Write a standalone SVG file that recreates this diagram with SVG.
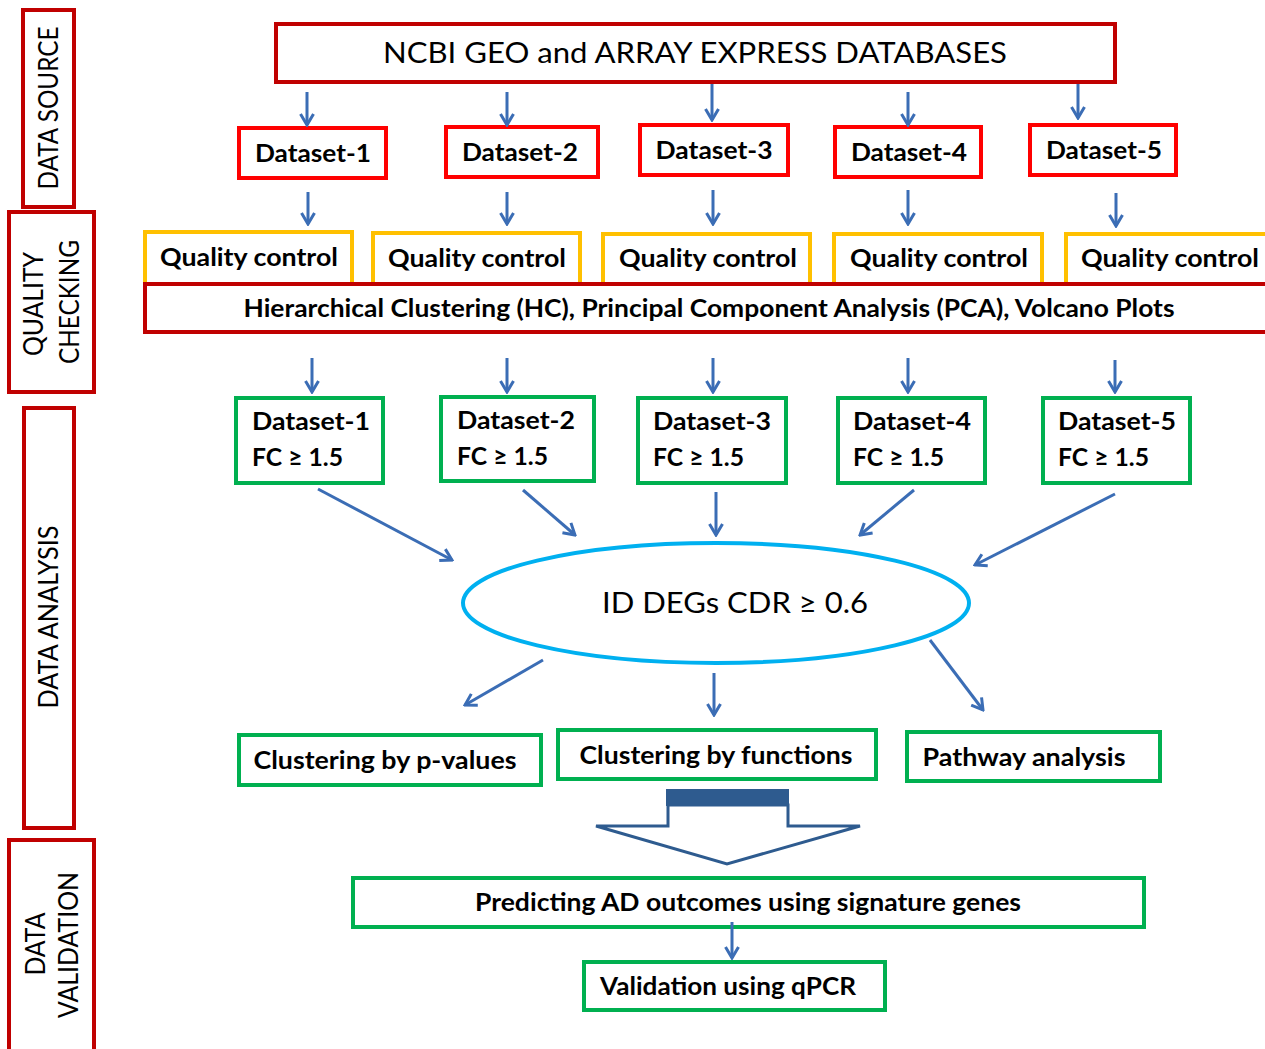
<svg xmlns="http://www.w3.org/2000/svg" width="1265" height="1049" viewBox="0 0 1265 1049">
<defs>
<style>
.t{font-family:Lato,"Liberation Sans",sans-serif;fill:#000}
.b{font-weight:bold}
.side{fill:#fff;stroke:#c00000;stroke-width:4}
.dr{fill:#fff;stroke:#c00000;stroke-width:4}
.rd{fill:#fff;stroke:#ff0000;stroke-width:4}
.qc{fill:#fff;stroke:#ffc000;stroke-width:4}
.gr{fill:#fff;stroke:#00b050;stroke-width:4}
.ar{stroke:#3b6db5;stroke-width:3;fill:none;marker-end:url(#ah)}
</style>
<marker id="ah" viewBox="0 0 14 16" refX="12" refY="8" markerWidth="14" markerHeight="16" markerUnits="userSpaceOnUse" orient="auto">
<path d="M1,1.5 L12,8 L1,14.5" fill="none" stroke="#3b6db5" stroke-width="3"/>
</marker>
</defs>
<rect width="1265" height="1049" fill="#fff"/>

<g id="side-data-source">
<rect x="23" y="10" width="51" height="197" class="side"/>
<text class="t" transform="translate(58,108) rotate(-90)" text-anchor="middle" font-size="27" textLength="163" lengthAdjust="spacingAndGlyphs">DATA SOURCE</text>
</g>
<g id="side-quality-checking">
<rect x="9" y="212" width="85" height="180" class="side"/>
<text class="t" transform="translate(43,304) rotate(-90)" text-anchor="middle" font-size="27" textLength="104" lengthAdjust="spacingAndGlyphs">QUALITY</text>
<text class="t" transform="translate(79,302) rotate(-90)" text-anchor="middle" font-size="27" textLength="124" lengthAdjust="spacingAndGlyphs">CHECKING</text>
</g>
<g id="side-data-analysis">
<rect x="24" y="408" width="50" height="420" class="side"/>
<text class="t" transform="translate(58,617) rotate(-90)" text-anchor="middle" font-size="27" textLength="183" lengthAdjust="spacingAndGlyphs">DATA ANALYSIS</text>
</g>
<g id="side-data-validation">
<rect x="9" y="840" width="85" height="220" class="side"/>
<text class="t" transform="translate(45,944) rotate(-90)" text-anchor="middle" font-size="27" textLength="63" lengthAdjust="spacingAndGlyphs">DATA</text>
<text class="t" transform="translate(78,945) rotate(-90)" text-anchor="middle" font-size="27" textLength="146" lengthAdjust="spacingAndGlyphs">VALIDATION</text>
</g>

<g id="ncbi">
<rect x="276" y="24" width="839" height="58" class="dr"/>
<text class="t" x="695" y="63" text-anchor="middle" font-size="28" textLength="624" lengthAdjust="spacingAndGlyphs">NCBI GEO and ARRAY EXPRESS DATABASES</text>
</g>

<g id="ds1"><rect x="239" y="128" width="147" height="50" class="rd"/><text class="t b" x="313" y="162" text-anchor="middle" font-size="25" textLength="116" lengthAdjust="spacingAndGlyphs">Dataset-1</text></g>
<g id="ds2"><rect x="446" y="127" width="152" height="50" class="rd"/><text class="t b" x="520" y="161" text-anchor="middle" font-size="25" textLength="116" lengthAdjust="spacingAndGlyphs">Dataset-2</text></g>
<g id="ds3"><rect x="640" y="125" width="148" height="50" class="rd"/><text class="t b" x="714" y="159" text-anchor="middle" font-size="25" textLength="117" lengthAdjust="spacingAndGlyphs">Dataset-3</text></g>
<g id="ds4"><rect x="835" y="127" width="146" height="50" class="rd"/><text class="t b" x="909" y="161" text-anchor="middle" font-size="25" textLength="116" lengthAdjust="spacingAndGlyphs">Dataset-4</text></g>
<g id="ds5"><rect x="1030" y="125" width="146" height="50" class="rd"/><text class="t b" x="1104" y="159" text-anchor="middle" font-size="25" textLength="116" lengthAdjust="spacingAndGlyphs">Dataset-5</text></g>

<g id="qc1"><rect x="145" y="232" width="207" height="55" class="qc"/><text class="t b" x="249" y="266" text-anchor="middle" font-size="25" textLength="178" lengthAdjust="spacingAndGlyphs">Quality control</text></g>
<g id="qc2"><rect x="373" y="233" width="207" height="54" class="qc"/><text class="t b" x="477" y="267" text-anchor="middle" font-size="25" textLength="178" lengthAdjust="spacingAndGlyphs">Quality control</text></g>
<g id="qc3"><rect x="603" y="234" width="207" height="53" class="qc"/><text class="t b" x="708" y="267" text-anchor="middle" font-size="25" textLength="178" lengthAdjust="spacingAndGlyphs">Quality control</text></g>
<g id="qc4"><rect x="834" y="234" width="208" height="53" class="qc"/><text class="t b" x="939" y="267" text-anchor="middle" font-size="25" textLength="178" lengthAdjust="spacingAndGlyphs">Quality control</text></g>
<g id="qc5"><rect x="1066" y="234" width="220" height="53" class="qc"/><text class="t b" x="1170" y="267" text-anchor="middle" font-size="25" textLength="178" lengthAdjust="spacingAndGlyphs">Quality control</text></g>

<g id="hc">
<rect x="145" y="284" width="1135" height="48" class="dr"/>
<text class="t b" x="709" y="317" text-anchor="middle" font-size="24" textLength="931" lengthAdjust="spacingAndGlyphs">Hierarchical Clustering (HC), Principal Component Analysis (PCA), Volcano Plots</text>
</g>

<g id="fc1"><rect x="236" y="398" width="147" height="85" class="gr"/><text class="t b" x="252" y="430" font-size="25" textLength="118" lengthAdjust="spacingAndGlyphs">Dataset-1</text><text class="t b" x="252" y="466" font-size="25" textLength="91" lengthAdjust="spacingAndGlyphs">FC ≥ 1.5</text></g>
<g id="fc2"><rect x="441" y="397" width="153" height="84" class="gr"/><text class="t b" x="457" y="429" font-size="25" textLength="118" lengthAdjust="spacingAndGlyphs">Dataset-2</text><text class="t b" x="457" y="465" font-size="25" textLength="91" lengthAdjust="spacingAndGlyphs">FC ≥ 1.5</text></g>
<g id="fc3"><rect x="638" y="398" width="148" height="85" class="gr"/><text class="t b" x="653" y="430" font-size="25" textLength="118" lengthAdjust="spacingAndGlyphs">Dataset-3</text><text class="t b" x="653" y="466" font-size="25" textLength="91" lengthAdjust="spacingAndGlyphs">FC ≥ 1.5</text></g>
<g id="fc4"><rect x="838" y="398" width="147" height="85" class="gr"/><text class="t b" x="853" y="430" font-size="25" textLength="118" lengthAdjust="spacingAndGlyphs">Dataset-4</text><text class="t b" x="853" y="466" font-size="25" textLength="91" lengthAdjust="spacingAndGlyphs">FC ≥ 1.5</text></g>
<g id="fc5"><rect x="1043" y="398" width="147" height="85" class="gr"/><text class="t b" x="1058" y="430" font-size="25" textLength="118" lengthAdjust="spacingAndGlyphs">Dataset-5</text><text class="t b" x="1058" y="466" font-size="25" textLength="91" lengthAdjust="spacingAndGlyphs">FC ≥ 1.5</text></g>

<g id="degs">
<ellipse cx="716" cy="603" rx="253" ry="60" fill="#fff" stroke="#00b0f0" stroke-width="4"/>
<text class="t" x="735" y="613" text-anchor="middle" font-size="28" textLength="266" lengthAdjust="spacingAndGlyphs">ID DEGs CDR ≥ 0.6</text>
</g>

<g id="clust-p"><rect x="239" y="735" width="302" height="50" class="gr"/><text class="t b" x="385" y="769" text-anchor="middle" font-size="25" textLength="263" lengthAdjust="spacingAndGlyphs">Clustering by p-values</text></g>
<g id="clust-f"><rect x="558" y="730" width="318" height="49" class="gr"/><text class="t b" x="716" y="764" text-anchor="middle" font-size="25" textLength="273" lengthAdjust="spacingAndGlyphs">Clustering by functions</text></g>
<g id="pathway"><rect x="907" y="732" width="253" height="49" class="gr"/><text class="t b" x="1024" y="766" text-anchor="middle" font-size="25" textLength="203" lengthAdjust="spacingAndGlyphs">Pathway analysis</text></g>

<g id="block-arrow">
<path d="M668,805 L668,826 L596,826 L727,864 L860,826 L788,826 L788,805 Z" fill="#fff" stroke="#2e5b8f" stroke-width="3" stroke-linejoin="miter"/>
<rect x="667" y="790" width="121" height="15" fill="#2e5b8f" stroke="#2e5b8f" stroke-width="2"/>
</g>

<g id="predict"><rect x="353" y="878" width="791" height="49" class="gr"/><text class="t b" x="748" y="911" text-anchor="middle" font-size="25" textLength="546" lengthAdjust="spacingAndGlyphs">Predicting AD outcomes using signature genes</text></g>
<g id="qpcr"><rect x="584" y="962" width="301" height="48" class="gr"/><text class="t b" x="728" y="995" text-anchor="middle" font-size="25" textLength="256" lengthAdjust="spacingAndGlyphs">Validation using qPCR</text></g>

<g id="connectors">
<line class="ar" x1="307" y1="92" x2="307" y2="125"/>
<line class="ar" x1="507" y1="92" x2="507" y2="125"/>
<line class="ar" x1="712" y1="84" x2="712" y2="120"/>
<line class="ar" x1="908" y1="92" x2="908" y2="125"/>
<line class="ar" x1="1078" y1="84" x2="1078" y2="118"/>

<line class="ar" x1="308" y1="192" x2="308" y2="224"/>
<line class="ar" x1="507" y1="192" x2="507" y2="224"/>
<line class="ar" x1="713" y1="190" x2="713" y2="224"/>
<line class="ar" x1="908" y1="190" x2="908" y2="224"/>
<line class="ar" x1="1116" y1="193" x2="1116" y2="226"/>

<line class="ar" x1="312" y1="358" x2="312" y2="392"/>
<line class="ar" x1="507" y1="358" x2="507" y2="392"/>
<line class="ar" x1="713" y1="358" x2="713" y2="392"/>
<line class="ar" x1="908" y1="358" x2="908" y2="392"/>
<line class="ar" x1="1115" y1="360" x2="1115" y2="392"/>

<line class="ar" x1="318" y1="489" x2="452" y2="560"/>
<line class="ar" x1="523" y1="490" x2="575" y2="535"/>
<line class="ar" x1="716" y1="492" x2="716" y2="535"/>
<line class="ar" x1="914" y1="490" x2="860" y2="535"/>
<line class="ar" x1="1115" y1="494" x2="975" y2="565"/>

<line class="ar" x1="543" y1="660" x2="465" y2="705"/>
<line class="ar" x1="714" y1="673" x2="714" y2="715"/>
<line class="ar" x1="930" y1="640" x2="983" y2="710"/>

<line class="ar" x1="732" y1="922" x2="732" y2="958"/>
</g>
</svg>
